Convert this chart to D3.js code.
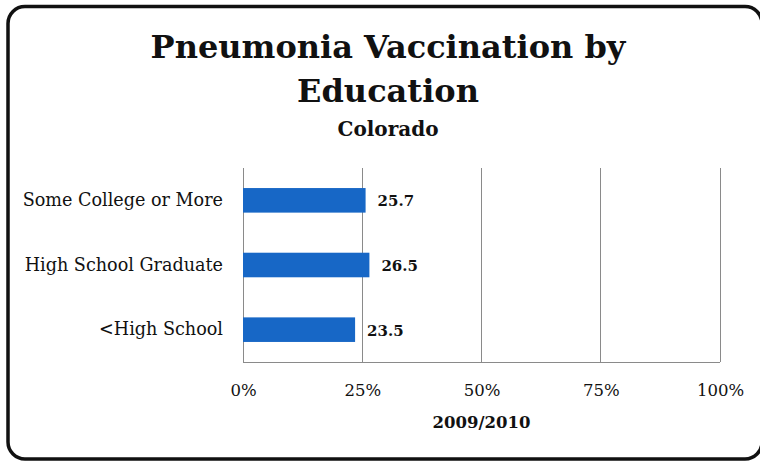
<!DOCTYPE html>
<html>
<head>
<meta charset="utf-8">
<script src="https://cdn.jsdelivr.net/npm/d3@7"></script>
<style>
  html, body { margin: 0; padding: 0; background: #fff; }
  svg { display: block; }
  text { font-family: "DejaVu Serif", "Liberation Serif", serif; fill: #111; }
</style>
</head>
<body>
<svg id="chart" width="760" height="461"></svg>
<script>
// Pneumonia vaccination rate (%) by education level, Colorado 2009/2010
const categories = ["Some College or More", "High School Graduate", "<High School"];
const values = [25.7, 26.5, 23.5];
const tickValues = [0, 25, 50, 75, 100];
const tickLabels = ["0%", "25%", "50%", "75%", "100%"];

const svg = d3.select("#chart");

// outer rounded frame (runs off the right edge)
svg.append("rect")
  .attr("x", 8).attr("y", 6.5)
  .attr("width", 754).attr("height", 452.5)
  .attr("rx", 17).attr("ry", 17)
  .attr("fill", "#fff")
  .attr("stroke", "#111").attr("stroke-width", 3.5);

// titles
svg.append("text")
  .attr("x", 388).attr("y", 58)
  .attr("text-anchor", "middle")
  .attr("font-weight", "bold").attr("font-size", 32)
  .text("Pneumonia Vaccination by");
svg.append("text")
  .attr("x", 388).attr("y", 102)
  .attr("text-anchor", "middle")
  .attr("font-weight", "bold").attr("font-size", 32)
  .text("Education");
svg.append("text")
  .attr("x", 388).attr("y", 136)
  .attr("text-anchor", "middle")
  .attr("font-weight", "bold").attr("font-size", 20)
  .text("Colorado");

// plot area
const plot = { left: 243, right: 720, top: 168, bottom: 362 };

const x = d3.scaleLinear().domain([0, 100]).range([plot.left, plot.right]);
const y = d3.scaleBand().domain(categories)
  .range([plot.top, plot.bottom])
  .paddingInner(0.62).paddingOuter(0.31);

const g = svg.append("g");

// vertical gridlines
g.selectAll("line.grid")
  .data(tickValues)
  .join("line")
  .attr("class", "grid")
  .attr("x1", d => x(d)).attr("x2", d => x(d))
  .attr("y1", plot.top).attr("y2", plot.bottom)
  .attr("stroke", "#8a8a8a").attr("stroke-width", 1)
  .attr("shape-rendering", "crispEdges");

// baseline
g.append("line")
  .attr("x1", plot.left).attr("x2", plot.right)
  .attr("y1", plot.bottom).attr("y2", plot.bottom)
  .attr("stroke", "#8a8a8a").attr("stroke-width", 1)
  .attr("shape-rendering", "crispEdges");

// bars
g.selectAll("rect.bar")
  .data(values)
  .join("rect")
  .attr("class", "bar")
  .attr("x", x(0))
  .attr("y", (d, i) => y(categories[i]))
  .attr("width", d => x(d) - x(0))
  .attr("height", y.bandwidth())
  .attr("fill", "#1767c6");

// value labels
g.selectAll("text.val")
  .data(values)
  .join("text")
  .attr("class", "val")
  .attr("x", d => x(d) + 12)
  .attr("y", (d, i) => y(categories[i]) + y.bandwidth() / 2)
  .attr("dy", "0.4em")
  .attr("font-weight", "bold").attr("font-size", 15)
  .text(d => d.toFixed(1));

// category labels
const yAxis = d3.axisLeft(y).tickSize(0).tickPadding(20);
const ya = svg.append("g")
  .attr("transform", `translate(${plot.left},0)`)
  .call(yAxis);
ya.select(".domain").remove();
ya.selectAll("text")
  .attr("font-size", 17.6)
  .attr("font-family", "DejaVu Serif, serif")
  .attr("fill", "#111");

// x tick labels
const xAxis = d3.axisBottom(x).tickValues(tickValues).tickSize(0).tickPadding(22)
  .tickFormat((d, i) => tickLabels[i]);
const xa = svg.append("g")
  .attr("transform", `translate(0,${plot.bottom})`)
  .call(xAxis);
xa.select(".domain").remove();
xa.selectAll("text")
  .attr("font-size", 16.5)
  .attr("font-family", "DejaVu Serif, serif")
  .attr("fill", "#222");

// x axis title
svg.append("text")
  .attr("x", x(50)).attr("y", 428)
  .attr("text-anchor", "middle")
  .attr("font-weight", "bold").attr("font-size", 16.5)
  .text("2009/2010");
</script>
</body>
</html>
